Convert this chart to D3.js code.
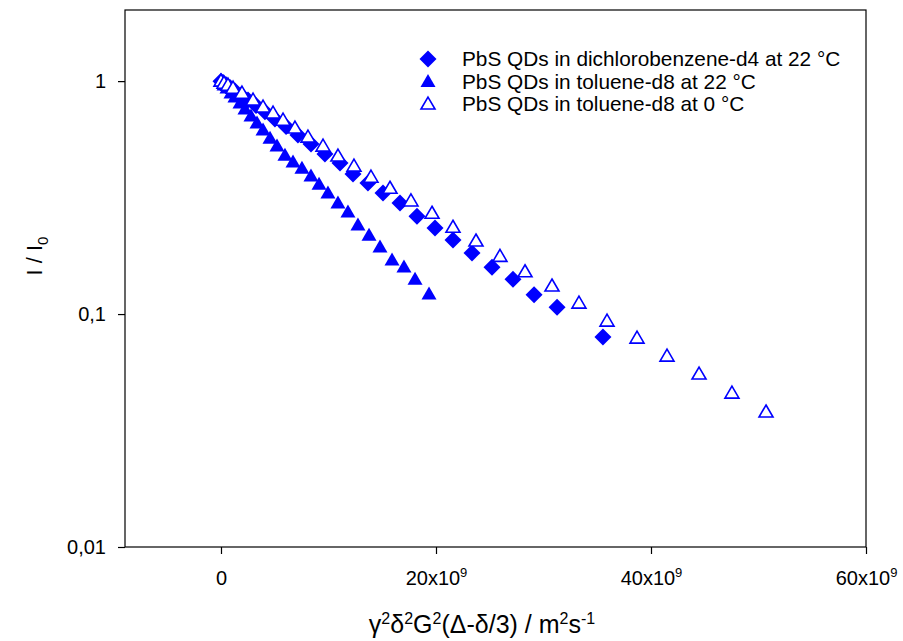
<!DOCTYPE html>
<html>
<head>
<meta charset="utf-8">
<script src="https://cdn.jsdelivr.net/npm/d3@7"></script>
<style>
  html, body { margin: 0; padding: 0; background: #fff; }
  svg { display: block; font-family: "Liberation Sans", Arial, sans-serif; }
</style>
</head>
<body>
<svg id="chart" width="903" height="641"></svg>
<script>
// ---- data (x in units of 1e9 m^2 s^-1, y = I/I0) ----
const dcbX = [0, 0.19, 0.47, 0.84, 1.30, 1.86, 2.51, 3.26, 4.09, 5.02, 6.05, 7.16, 8.37, 9.67, 11.07, 12.28, 13.67, 15.07, 16.65, 18.23, 19.91, 21.58, 23.35, 25.21, 27.16, 29.12, 31.26, 35.53];
const dcbY = [1.000, 0.986, 0.966, 0.940, 0.908, 0.871, 0.830, 0.785, 0.738, 0.688, 0.638, 0.587, 0.537, 0.486, 0.445, 0.399, 0.365, 0.331, 0.300, 0.263, 0.234, 0.208, 0.183, 0.159, 0.141, 0.121, 0.107, 0.0797];

const tol22X = [0, 0.28, 0.56, 0.93, 1.30, 1.77, 2.23, 2.79, 3.35, 3.91, 4.56, 5.21, 5.95, 6.70, 7.53, 8.37, 9.12, 9.95, 10.88, 11.81, 12.74, 13.77, 14.79, 15.91, 17.02, 18.05, 19.35];
const tol22Y = [1.000, 0.961, 0.933, 0.888, 0.854, 0.805, 0.758, 0.708, 0.660, 0.616, 0.569, 0.526, 0.481, 0.449, 0.423, 0.391, 0.361, 0.331, 0.300, 0.274, 0.241, 0.218, 0.194, 0.1705, 0.159, 0.141, 0.122];

const tol0X = [0, 0.28, 0.65, 1.12, 1.95, 2.98, 3.91, 4.84, 5.77, 6.88, 8.09, 9.49, 10.88, 12.37, 13.95, 15.72, 17.67, 19.63, 21.58, 23.72, 25.95, 28.28, 30.79, 33.30, 35.91, 38.70, 41.49, 44.47, 47.53, 50.70];
const tol0Y = [1.000, 0.980, 0.961, 0.933, 0.888, 0.829, 0.774, 0.729, 0.680, 0.629, 0.575, 0.526, 0.477, 0.432, 0.387, 0.347, 0.306, 0.271, 0.236, 0.206, 0.177, 0.152, 0.132, 0.1115, 0.0933, 0.0789, 0.0660, 0.0553, 0.0458, 0.0380];

const seriesNames = ["PbS QDs in dichlorobenzene-d4 at 22 \u00B0C", "PbS QDs in toluene-d8 at 22 \u00B0C", "PbS QDs in toluene-d8 at 0 \u00B0C"];
const xTickValues = [0, 20, 40, 60];
const yTickValues = [1, 0.1, 0.01];
const yTickLabels = ["1", "0,1", "0,01"];

// ---- layout ----
const svg = d3.select("#chart");
const L = 125, R = 866, T = 10, B = 547;
const blue = "#0000ff";

const x = d3.scaleLinear().domain([-8.93, 60]).range([L, R]);
const y = d3.scaleLog().domain([0.01, 2.02]).range([B, T]);

// frame
svg.append("rect").attr("x", L).attr("y", T).attr("width", R - L).attr("height", B - T)
  .attr("fill", "none").attr("stroke", "#000").attr("stroke-width", 1.2);

// x axis
const xAxis = svg.append("g").attr("transform", `translate(0,${B})`)
  .call(d3.axisBottom(x).tickValues(xTickValues).tickSize(7).tickFormat(""));
xAxis.select(".domain").remove();
xAxis.selectAll(".tick line").attr("stroke", "#000").attr("stroke-width", 1.2);
xAxis.selectAll(".tick").each(function(d) {
  const t = d3.select(this).append("text")
    .attr("y", 38).attr("fill", "#000").attr("text-anchor", "middle")
    .style("font-size", "20px");
  if (d === 0) { t.text("0"); }
  else {
    t.append("tspan").text(d + "x10");
    t.append("tspan").attr("dy", -8).style("font-size", "13px").text("9");
  }
});

// y axis
const yAxis = svg.append("g").attr("transform", `translate(${L},0)`)
  .call(d3.axisLeft(y).tickValues(yTickValues).tickSize(7)
    .tickFormat((d, i) => yTickLabels[i]));
yAxis.select(".domain").remove();
yAxis.selectAll(".tick line").attr("stroke", "#000").attr("stroke-width", 1.2);
yAxis.selectAll(".tick text").attr("x", -19).attr("fill", "#000")
  .style("font-size", "20px").style("font-family", "Liberation Sans, Arial, sans-serif");

// axis titles
const xt = svg.append("text").attr("x", 482).attr("y", 633).attr("text-anchor", "middle")
  .attr("fill", "#000").style("font-size", "25px");
const sup = (s) => { xt.append("tspan").attr("dy", -9).style("font-size", "16px").text(s); };
const base = (s) => { xt.append("tspan").attr("dy", 9).text(s); };
xt.append("tspan").text("\u03B3"); sup("2"); base("\u03B4"); sup("2"); base("G"); sup("2");
base("(\u0394-\u03B4/3) / m"); sup("2"); base("s"); sup("-1");

const yt = svg.append("text").attr("transform", "translate(42,256) rotate(-90)")
  .attr("text-anchor", "middle").attr("fill", "#000").style("font-size", "22px");
yt.append("tspan").text("I / I");
yt.append("tspan").attr("dy", 6).style("font-size", "15px").text("0");

// marker shapes
const diamond = (s) => `M0,${-s}L${s},0L0,${s}L${-s},0Z`;
const tri = (w, h) => `M0,${-h * 0.58}L${w / 2},${h * 0.42}L${-w / 2},${h * 0.42}Z`;

const dcb = dcbX.map((v, i) => ({ x: v, y: dcbY[i] }));
const t22 = tol22X.map((v, i) => ({ x: v, y: tol22Y[i] }));
const t0 = tol0X.map((v, i) => ({ x: v, y: tol0Y[i] }));

const plot = svg.append("g");
plot.selectAll(".dcb").data(dcb).join("path").attr("class", "dcb")
  .attr("d", diamond(8.5)).attr("transform", d => `translate(${x(d.x)},${y(d.y)})`)
  .attr("fill", blue);
plot.selectAll(".t22").data(t22).join("path").attr("class", "t22")
  .attr("d", tri(15, 13)).attr("transform", d => `translate(${x(d.x)},${y(d.y)})`)
  .attr("fill", blue);
plot.selectAll(".t0").data(t0).join("path").attr("class", "t0")
  .attr("d", tri(14, 12)).attr("transform", d => `translate(${x(d.x)},${y(d.y)})`)
  .attr("fill", "#fff").attr("stroke", blue).attr("stroke-width", 1.6);

// legend
const legY = [59, 81.5, 104];
const leg = svg.append("g");
leg.append("path").attr("d", diamond(8.5)).attr("transform", `translate(428,${legY[0]})`).attr("fill", blue);
leg.append("path").attr("d", tri(15, 13)).attr("transform", `translate(428,${legY[1]})`).attr("fill", blue);
leg.append("path").attr("d", tri(14, 12)).attr("transform", `translate(428,${legY[2]})`)
  .attr("fill", "#fff").attr("stroke", blue).attr("stroke-width", 1.6);
leg.selectAll(".lt").data(seriesNames).join("text").attr("class", "lt")
  .attr("x", 462).attr("y", (d, i) => legY[i]).attr("dy", "0.36em")
  .attr("fill", "#000").style("font-size", "20.8px").text(d => d);
</script>
</body>
</html>
